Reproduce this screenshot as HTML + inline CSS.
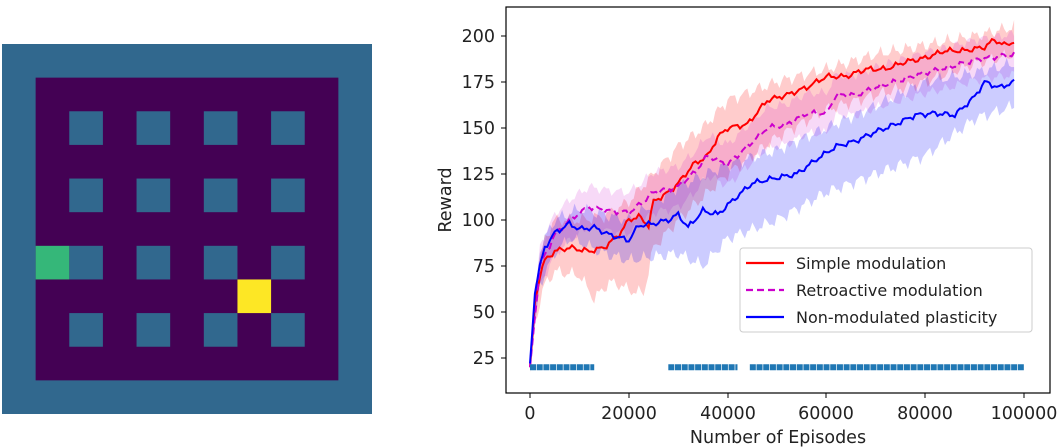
<!DOCTYPE html><html><head><style>body{margin:0;background:#fff}svg{display:block;font-family:"DejaVu Sans","Liberation Sans",sans-serif}</style></head><body>
<svg id="s" width="1058" height="447" viewBox="0 0 1058 447" xmlns="http://www.w3.org/2000/svg">
<g id="grid"></g>
<g id="plot"></g>
<rect x="506" y="7" width="544" height="386" fill="none" stroke="#000" stroke-width="1.2"/>
<g font-size="17.5" fill="#222" text-anchor="end">
<text x="495" y="42">200</text><text x="495" y="88">175</text><text x="495" y="134">150</text><text x="495" y="180">125</text><text x="495" y="226">100</text><text x="495" y="272">75</text><text x="495" y="318">50</text><text x="495" y="364">25</text>
</g>
<g font-size="17.5" fill="#222" text-anchor="middle">
<text x="530" y="419">0</text><text x="629" y="419">20000</text><text x="728" y="419">40000</text><text x="826" y="419">60000</text><text x="925" y="419">80000</text><text x="1024" y="419">100000</text>
<text x="778" y="443">Number of Episodes</text>
<text transform="translate(451,200) rotate(-90)">Reward</text>
</g>
<g stroke="#000" stroke-width="1">
<line x1="501" y1="36" x2="506" y2="36"/><line x1="501" y1="82" x2="506" y2="82"/><line x1="501" y1="128" x2="506" y2="128"/><line x1="501" y1="174" x2="506" y2="174"/><line x1="501" y1="220" x2="506" y2="220"/><line x1="501" y1="266" x2="506" y2="266"/><line x1="501" y1="312" x2="506" y2="312"/><line x1="501" y1="358" x2="506" y2="358"/>
<line x1="530" y1="393" x2="530" y2="398"/><line x1="629" y1="393" x2="629" y2="398"/><line x1="728" y1="393" x2="728" y2="398"/><line x1="826" y1="393" x2="826" y2="398"/><line x1="925" y1="393" x2="925" y2="398"/><line x1="1024" y1="393" x2="1024" y2="398"/>
</g>
<rect x="740" y="248" width="292" height="84" rx="3" fill="#fff" fill-opacity="0.85" stroke="#ccc"/>
<line x1="746" y1="263" x2="784" y2="263" stroke="#f00" stroke-width="2.2"/>
<line x1="746" y1="290" x2="784" y2="290" stroke="#c0c" stroke-width="2.2" stroke-dasharray="7,4"/>
<line x1="746" y1="317" x2="784" y2="317" stroke="#00f" stroke-width="2.2"/>
<g font-size="16" fill="#222"><text x="796" y="269">Simple modulation</text><text x="796" y="296">Retroactive modulation</text><text x="796" y="323">Non-modulated plasticity</text></g>
</svg>
<script>
var g=document.getElementById('grid'),h='';
var C=370/11;
h+='<rect x="2" y="44" width="370" height="370" fill="#31688e"/>';
h+='<rect x="'+(2+C)+'" y="'+(44+C)+'" width="'+(9*C)+'" height="'+(9*C)+'" fill="#440154"/>';
for(var r=2;r<=8;r+=2)for(var c=2;c<=8;c+=2)h+='<rect x="'+(2+c*C)+'" y="'+(44+r*C)+'" width="'+C+'" height="'+C+'" fill="#31688e"/>';
h+='<rect x="'+(2+C)+'" y="'+(44+6*C)+'" width="'+C+'" height="'+C+'" fill="#35b779"/>';
h+='<rect x="'+(2+7*C)+'" y="'+(44+7*C)+'" width="'+C+'" height="'+C+'" fill="#fde725"/>';
g.innerHTML=h;
function X(k){return 530+k*4.94}function Y(v){return 36+(200-v)*1.84}
function interp(pts,k){for(var i=0;i<pts.length-1;i++){if(k<=pts[i+1][0]){var a=pts[i],b=pts[i+1],t=(k-a[0])/(b[0]-a[0]);return a[1]+t*(b[1]-a[1]);}}return pts[pts.length-1][1];}
function noise(k,s){return Math.sin(k*2.3+s)*1.3+Math.sin(k*5.1+s*2)*0.8}
function samp(pts,s,amp){var a=[];for(var k=0;k<=98;k+=0.5){a.push([k,interp(pts,k)+(k>1?noise(k,s)*amp:0)]);}return a;}
function line(a){return a.map(function(p,i){return(i?'L':'M')+X(p[0]).toFixed(1)+','+Y(p[1]).toFixed(1)}).join('');}
function band(lo,hi){var l=line(lo),u=hi.slice().reverse().map(function(p){return 'L'+X(p[0]).toFixed(1)+','+Y(p[1]).toFixed(1)}).join('');return l+u+'Z';}
var red=[[0,20],[1,55],[2,70],[3,78],[5,83],[8,85],[12,83],[15,85],[18,92],[20,100],[22,102],[24,97],[25,110],[28,115],[30,120],[33,130],[36,135],[38,145],[40,150],[44,152],[48,165],[52,168],[56,172],[60,178],[64,178],[68,182],[72,182],[76,186],[80,188],[84,192],[88,192],[92,194],[94,198],[96,195],[98,197]];
var redLo=[[0,17],[1,45],[3,65],[5,72],[10,70],[13,57],[16,66],[18,65],[20,62],[23,60],[25,85],[30,100],[40,125],[50,145],[60,160],[70,168],[80,175],[90,185],[98,190]];
var redHi=[[0,23],[1,65],[3,90],[5,100],[10,100],[15,102],[20,110],[25,125],[30,140],[35,150],[40,165],[50,175],[60,182],[70,190],[80,195],[90,200],[98,205]];
var mag=[[0,20],[2,75],[5,92],[8,100],[12,107],[16,105],[20,104],[22,108],[25,115],[30,118],[33,125],[36,135],[40,130],[44,140],[48,150],[52,152],[56,158],[60,158],[62,168],[66,168],[70,172],[75,176],[80,180],[85,183],[90,187],[98,190]];
var blue=[[0,22],[1,60],[2,75],[3,85],[5,93],[8,98],[10,95],[13,96],[16,92],[20,89],[22,97],[25,98],[28,100],[30,103],[32,96],[35,105],[38,103],[42,113],[45,120],[50,123],[54,125],[58,133],[62,140],[66,143],[70,148],[74,152],[78,157],[82,158],[86,157],[90,167],[92,175],[95,172],[98,175]];
var bLo=[[0,20],[2,65],[5,82],[8,90],[15,82],[20,78],[30,82],[35,75],[40,90],[50,100],[60,115],[70,125],[80,135],[90,155],[98,162]];
var bHi=[[0,24],[2,85],[5,100],[10,106],[20,100],[30,118],[40,130],[50,138],[60,150],[70,162],[80,175],[90,180],[98,185]];
function off(p,d){return p.map(function(q){return[q[0],q[1]+(q[0]>1?d:0)]})}
var o='';
o+='<path d="'+band(samp(redLo,1,2),samp(redHi,2,2))+'" fill="#f00" fill-opacity="0.2"/>';
o+='<path d="'+band(samp(off(mag,-11),3,1.5),samp(off(mag,11),4,1.5))+'" fill="#c0c" fill-opacity="0.15"/>';
o+='<path d="'+band(samp(bLo,5,2),samp(bHi,6,2))+'" fill="#00f" fill-opacity="0.2"/>';
o+='<path d="'+line(samp(red,7,0.8))+'" fill="none" stroke="#f00" stroke-width="2"/>';
o+='<path d="'+line(samp(mag,8,0.8))+'" fill="none" stroke="#c0c" stroke-width="2" stroke-dasharray="7,4"/>';
o+='<path d="'+line(samp(blue,9,0.8))+'" fill="none" stroke="#00f" stroke-width="2"/>';
var yy=Y(20);
[[0,13],[28,42],[44.5,100]].forEach(function(s){o+='<line x1="'+X(s[0])+'" y1="'+yy+'" x2="'+X(s[1])+'" y2="'+yy+'" stroke="#1f77b4" stroke-width="6" stroke-dasharray="6,0.7"/>';});
document.getElementById('plot').innerHTML=o;
</script>
</body></html>
